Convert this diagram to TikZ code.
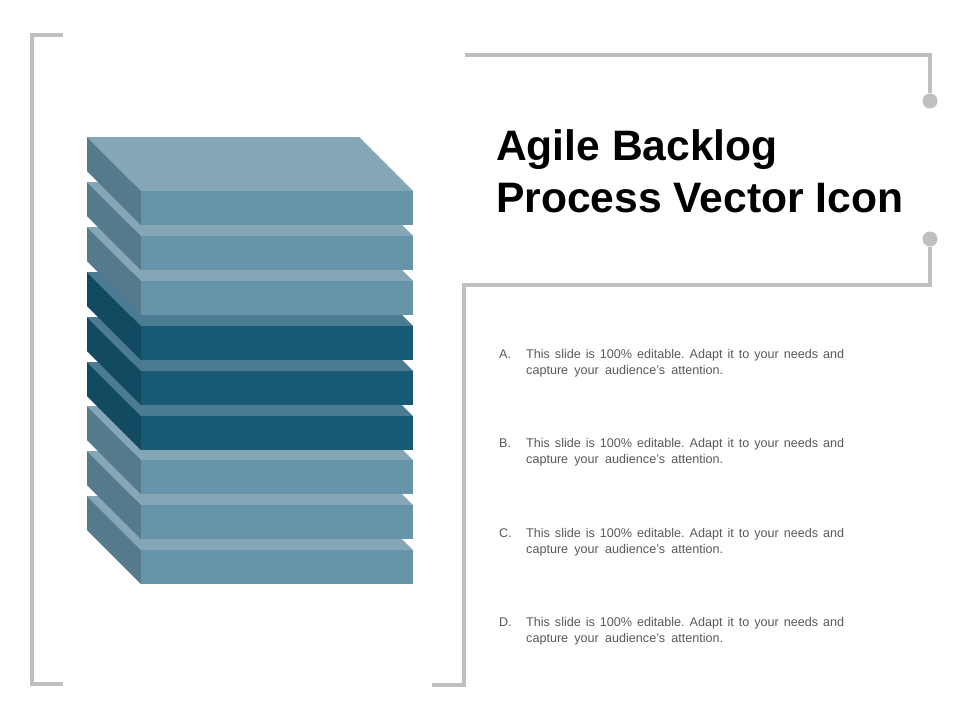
\documentclass[tikz,border=0pt]{standalone}
\usepackage{fontspec}
\setmainfont{Liberation Sans}
\definecolor{framegray}{HTML}{BFBFBF}
\definecolor{bodygray}{HTML}{595959}
\definecolor{lighttop}{HTML}{84A6B7}
\definecolor{lightfront}{HTML}{6694A9}
\definecolor{lightside}{HTML}{557A8C}
\definecolor{darktop}{HTML}{4A7B92}
\definecolor{darkfront}{HTML}{185A76}
\definecolor{darkside}{HTML}{124A61}
\newcommand{\slab}[2]{%
  \fill[#2top] (87,#1) -- (359,#1) -- (413,#1+54) -- (141,#1+54) -- cycle;
  \fill[#2side] (87,#1) -- (141,#1+54) -- (141,#1+88) -- (87,#1+34) -- cycle;
  \fill[#2front] (141,#1+54) rectangle (413,#1+88);
}
\begin{document}
\begin{tikzpicture}[
    x=1pt, y=-1pt,
    frameline/.style={draw=framegray, line width=4pt},
    framedot/.style={circle, fill=framegray, minimum size=15pt, inner sep=0pt},
    heading/.style={anchor=base west, inner sep=0pt, font=\fontsize{42.6}{42.6}\selectfont\bfseries, text=black},
    marker/.style={anchor=base west, inner sep=0pt, font=\fontsize{12.6}{16}\selectfont, text=bodygray},
    bodytext/.style={anchor=base west, inner sep=0pt, font=\fontsize{12.6}{16}\selectfont, text=bodygray}
]
\useasboundingbox (0,0) rectangle (960,720);

% Stack, drawn from the bottom up
\foreach \ytop/\tone in {496/light, 451/light, 406/light, 362/dark, 317/dark, 272/dark, 227/light, 182/light, 137/light} {
    \slab{\ytop}{\tone}
}

% Left bracket
\draw[frameline] (63,35) -- (32,35) -- (32,684) -- (63,684);

% Frame dots
\node[framedot] (dottop) at (930,101) {};
\node[framedot] (dotbottom) at (930,239) {};
\coordinate (framestart) at (465,55);
\coordinate (frameend) at (432,685);

% Right frame
\draw[frameline] (framestart) -- (930,55) -- (dottop);
\draw[frameline] (dotbottom) -- (930,285) -- (464,285) -- (464,685) -- (frameend);

% Title
\node[heading] (titleone) at (496,160) {Agile Backlog};
\node[heading] (titletwo) at (496,212) {Process Vector Icon};

% Items
\foreach \ypos/\letter in {358/A, 447.5/B, 537/C, 626/D} {
    \node[marker] (mark\letter) at (499,\ypos) {\letter.};
    \node[bodytext] (item\letter) at (526,\ypos) {\hbox to 318pt{This\hfill slide\hfill is\hfill 100\%\hfill editable.\hfill Adapt\hfill it\hfill to\hfill your\hfill needs\hfill and}};
    \node[bodytext] (more\letter) at (526,\ypos+16) {\hbox to 197pt{capture\hfill your\hfill audience's\hfill attention.}};
}
\end{tikzpicture}
\end{document}
